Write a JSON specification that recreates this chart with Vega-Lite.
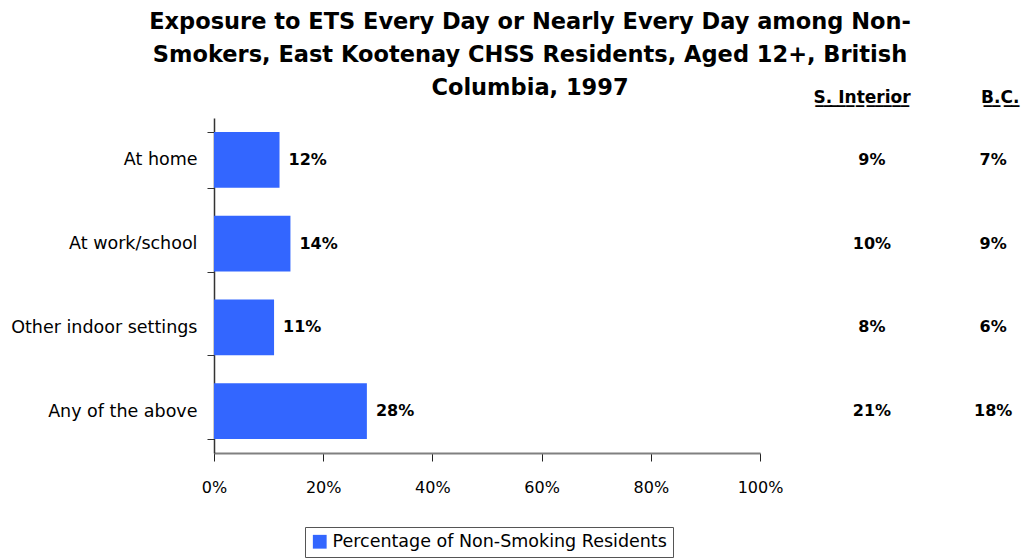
{
  "$schema": "https://vega.github.io/schema/vega-lite/v6.json",
  "width": 546,
  "height": 335,
  "autosize": {"type": "none"},
  "padding": {"left": 214, "top": 118, "right": 262, "bottom": 107},
  "background": "white",
  "title": {
    "text": ["Exposure to ETS Every Day or Nearly Every Day among Non-", "Smokers, East Kootenay CHSS Residents, Aged 12+, British", "Columbia, 1997"],
    "font": "DejaVu Sans",
    "fontSize": 22.5,
    "fontWeight": "bold",
    "lineHeight": 33,
    "anchor": "middle",
    "dx": 43,
    "offset": -11,
    "color": "black"
  },
  "data": {
    "values": [
      {"cat": "At home", "pct": 0.12, "si": 0.09, "bc": 0.07, "series": "Percentage of Non-Smoking Residents"},
      {"cat": "At work/school", "pct": 0.14, "si": 0.10, "bc": 0.09, "series": "Percentage of Non-Smoking Residents"},
      {"cat": "Other indoor settings", "pct": 0.11, "si": 0.08, "bc": 0.06, "series": "Percentage of Non-Smoking Residents"},
      {"cat": "Any of the above", "pct": 0.28, "si": 0.21, "bc": 0.18, "series": "Percentage of Non-Smoking Residents"}
    ]
  },
  "encoding": {
    "y": {
      "field": "cat",
      "type": "nominal",
      "sort": null,
      "scale": {"paddingInner": 0.333, "paddingOuter": 0.1667},
      "axis": {
        "title": null,
        "tickBand": "extent",
        "tickSize": 7,
        "tickColor": "#333333",
        "domainColor": "#333333",
        "domainWidth": 1.5,
        "labelFontSize": 17.5,
        "labelPadding": 10,
        "labelColor": "black",
        "labelFont": "DejaVu Sans",
        "labelLimit": 0
      }
    }
  },
  "layer": [
    {
      "mark": {"type": "bar", "color": "#3366ff"},
      "encoding": {
        "x": {
          "field": "pct",
          "type": "quantitative",
          "scale": {"domain": [0, 1], "nice": false, "clamp": false},
          "axis": {
            "title": null,
            "values": [0, 0.2, 0.4, 0.6, 0.8, 1],
            "format": ".0%",
            "grid": false,
            "tickSize": 8,
            "tickColor": "#222222",
            "domainColor": "#808080",
            "domainWidth": 2,
            "labelFontSize": 16,
            "labelPadding": 18,
            "labelColor": "black",
            "labelFont": "DejaVu Sans",
            "labelFlush": false
          }
        },
        "color": {
          "field": "series",
          "type": "nominal",
          "scale": {"range": ["#3366ff"]},
          "legend": {
            "orient": "none",
            "legendX": 91,
            "legendY": 409,
            "title": null,
            "symbolType": "square",
            "symbolSize": 190,
            "symbolStrokeWidth": 0,
            "labelFontSize": 17.5,
            "labelColor": "black",
            "labelFont": "DejaVu Sans",
            "labelLimit": 0,
            "strokeColor": "#555555",
            "padding": 6
          }
        }
      }
    },
    {
      "mark": {"type": "text", "align": "left", "dx": 9, "fontWeight": "bold", "fontSize": 16, "font": "DejaVu Sans", "color": "black"},
      "encoding": {
        "x": {"field": "pct", "type": "quantitative"},
        "text": {"field": "pct", "type": "quantitative", "format": ".0%"}
      }
    },
    {
      "mark": {"type": "text", "align": "center", "fontWeight": "bold", "fontSize": 16, "font": "DejaVu Sans", "color": "black"},
      "encoding": {
        "x": {"datum": 1.205},
        "text": {"field": "si", "type": "quantitative", "format": ".0%"}
      }
    },
    {
      "mark": {"type": "text", "align": "center", "fontWeight": "bold", "fontSize": 16, "font": "DejaVu Sans", "color": "black"},
      "encoding": {
        "x": {"datum": 1.427},
        "text": {"field": "bc", "type": "quantitative", "format": ".0%"}
      }
    },
    {
      "data": {"values": [{"h": "S̲.̲ ̲I̲n̲t̲e̲r̲i̲o̲r̲", "hx": 1.187}, {"h": "B̲.̲C̲.̲", "hx": 1.44}]},
      "mark": {"type": "text", "align": "center", "dy": -62, "fontWeight": "bold", "fontSize": 17, "font": "DejaVu Sans", "color": "black"},
      "encoding": {
        "x": {"field": "hx", "type": "quantitative"},
        "y": {"datum": "At home"},
        "text": {"field": "h", "type": "nominal"}
      }
    }
  ],
  "config": {
    "view": {"stroke": null},
    "font": "DejaVu Sans"
  }
}
